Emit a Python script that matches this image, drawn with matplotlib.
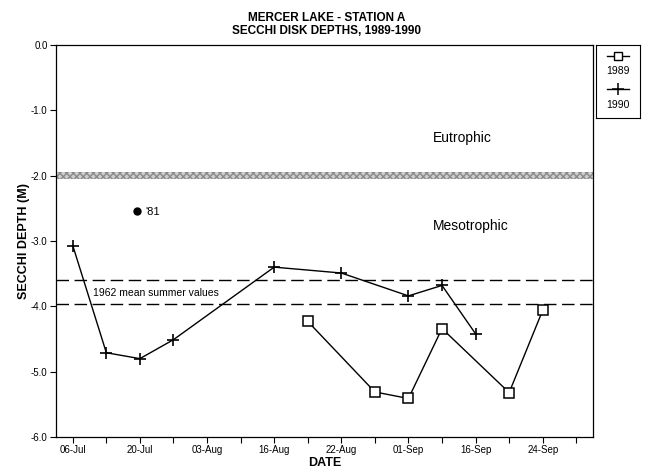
import matplotlib
matplotlib.use("Agg")
import matplotlib.pyplot as plt

plt.rcParams['font.family'] = ['Liberation Sans', 'DejaVu Sans']

# x axis: evenly spaced sampling positions, labels on every other tick
tick_positions = list(range(16))
tick_labels = ['06-Jul', '', '20-Jul', '', '03-Aug', '', '16-Aug', '', '22-Aug', '',
               '01-Sep', '', '16-Sep', '', '24-Sep', '']

x1989 = [7, 9, 10, 11, 13, 14]
y1989 = [-4.23, -5.31, -5.41, -4.34, -5.32, -4.06]

x1990 = [0, 1, 2, 3, 6, 8, 10, 11, 12]
y1990 = [-3.07, -4.71, -4.80, -4.51, -3.40, -3.49, -3.84, -3.68, -4.42]

x1981 = [1.9]
y1981 = [-2.54]

trophic_boundary = (-2.05, -1.95)
mean_1962 = [-3.60, -3.97]

yticks = [0, -1, -2, -3, -4, -5, -6]
ytick_labels = ['0.0', '-1.0', '-2.0', '-3.0', '-4.0', '-5.0', '-6.0']

fig = plt.figure(figsize=(6.51, 4.73), dpi=100)
ax = fig.add_axes([0.086, 0.076, 0.825, 0.829])

ax.axhspan(trophic_boundary[0], trophic_boundary[1], facecolor='#cfcfcf',
           edgecolor='#8a8a8a', hatch='xxxxx', linewidth=0)
for yv in mean_1962:
    ax.axhline(yv, color='black', lw=1.0, linestyle=(0, (9, 4)))

ax.plot(x1990, y1990, color='black', lw=1.0, marker='+', markersize=9, markeredgewidth=1.2)
ax.plot(x1989, y1989, color='black', lw=1.0, marker='s', markersize=6.5,
        markerfacecolor='white', markeredgecolor='black', markeredgewidth=1.1)
ax.plot(x1981, y1981, 'o', color='black', markersize=5)
ax.text(x1981[0] + 0.25, y1981[0] - 0.02, "'81", fontsize=8, va='center', ha='left')

ax.text(10.73, -1.42, 'Eutrophic', fontsize=10, va='center', ha='left')
ax.text(10.73, -2.77, 'Mesotrophic', fontsize=10, va='center', ha='left')
ax.text(0.6, -3.79, '1962 mean summer values', fontsize=7.5, va='center', ha='left')

ax.set_xlim(-0.5, 15.5)
ax.set_ylim(-6.0, 0.0)
ax.set_xticks(tick_positions)
ax.set_xticklabels(tick_labels, fontsize=7)
ax.set_yticks(yticks)
ax.set_yticklabels(ytick_labels, fontsize=7)
ax.tick_params(direction='out', length=4, width=0.8, pad=2)
for s in ax.spines.values():
    s.set_linewidth(0.9)

ax.set_xlabel('DATE', fontsize=9, fontweight='bold', labelpad=1)
ax.set_ylabel('SECCHI DEPTH (M)', fontsize=9, fontweight='bold', labelpad=1)

fig.text(0.502, 0.975, 'MERCER LAKE - STATION A\nSECCHI DISK DEPTHS, 1989-1990',
         ha='center', va='top', fontsize=8.5, fontweight='bold', linespacing=1.1)

# legend box
lax = fig.add_axes([0.9155, 0.750, 0.067, 0.155])
lax.set_xlim(0, 1)
lax.set_ylim(0, 1)
lax.set_xticks([])
lax.set_yticks([])
for s in lax.spines.values():
    s.set_linewidth(0.8)
lax.plot([0.25, 0.75], [0.85, 0.85], color='black', lw=1.0)
lax.plot([0.5], [0.85], marker='s', markersize=6, markerfacecolor='white',
         markeredgecolor='black', linestyle='none')
lax.text(0.5, 0.64, '1989', ha='center', va='center', fontsize=7.5)
lax.plot([0.25, 0.75], [0.40, 0.40], color='black', lw=1.0)
lax.plot([0.5], [0.40], marker='+', markersize=8, color='black', markeredgewidth=1.1,
         linestyle='none')
lax.text(0.5, 0.18, '1990', ha='center', va='center', fontsize=7.5)

fig.savefig('out.png', dpi=100)
